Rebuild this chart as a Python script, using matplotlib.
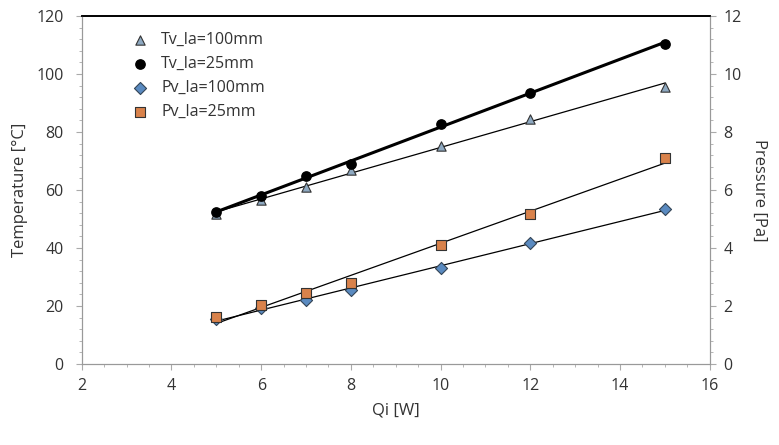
import matplotlib
matplotlib.use('Agg')
import matplotlib.pyplot as plt
import numpy as np
from matplotlib.ticker import MultipleLocator

plt.rcParams['font.family'] = ['Open Sans', 'DejaVu Sans']

qi = [5, 6, 7, 8, 10, 12, 15]
tv_100 = [51.6, 56.7, 60.9, 67.0, 75.3, 84.6, 95.6]
tv_25 = [52.3, 58.0, 65.0, 68.8, 82.9, 93.5, 110.5]
pv_100 = [1.55, 1.93, 2.2, 2.54, 3.3, 4.16, 5.36]
pv_25 = [1.62, 2.03, 2.45, 2.8, 4.09, 5.16, 7.12]

fig = plt.figure(figsize=(7.79, 4.45), dpi=100)
ax = fig.add_axes([0.105, 0.182, 0.806, 0.782])
ax2 = ax.twinx()

def trend(a, x, y, lw):
    k, b = np.polyfit(x, y, 1)
    xs = np.array([min(x), max(x)])
    a.plot(xs, k * xs + b, color='black', lw=lw, zorder=2)

trend(ax, qi, tv_100, 0.9)
trend(ax, qi, tv_25, 2.2)
trend(ax2, qi, pv_100, 0.9)
trend(ax2, qi, pv_25, 0.9)

h1 = ax.scatter(qi, tv_100, marker='^', s=45, c='#8EA9C1', edgecolors='#333333', linewidths=0.8, zorder=3, label='Tv_la=100mm')
h2 = ax.scatter(qi, tv_25, marker='o', s=45, c='black', edgecolors='black', zorder=3, label='Tv_la=25mm')
h3 = ax2.scatter(qi, pv_100, marker='D', s=38, c='#5A8AC0', edgecolors='#334455', linewidths=0.8, zorder=3, label='Pv_la=100mm')
h4 = ax2.scatter(qi, pv_25, marker='s', s=50, c='#D9824B', edgecolors='#333333', linewidths=0.8, zorder=3, label='Pv_la=25mm')

ax.set_xlim(2, 16)
ax.set_ylim(0, 120)
ax2.set_ylim(0, 12)
ax.xaxis.set_major_locator(MultipleLocator(2))
ax.xaxis.set_minor_locator(MultipleLocator(0.5))
ax.yaxis.set_major_locator(MultipleLocator(20))
ax.yaxis.set_minor_locator(MultipleLocator(4))
ax2.yaxis.set_major_locator(MultipleLocator(2))
ax2.yaxis.set_minor_locator(MultipleLocator(0.4))

for a in (ax, ax2):
    for s in ('left', 'right', 'bottom'):
        a.spines[s].set_color('#999999')
    a.spines['top'].set_color('black')
    a.spines['top'].set_linewidth(1.2)
    a.tick_params(which='both', colors='#aaaaaa', labelcolor='#333333', labelsize=11.5, direction='out')
    a.tick_params(which='major', length=4)
    a.tick_params(which='minor', length=2.5)
ax.tick_params(axis='y', which='both', pad=9)
ax.tick_params(axis='x', which='both', pad=6)
ax2.tick_params(axis='y', which='both', pad=6)

ax.set_xlabel('Qi [W]', fontsize=12, color='#333333', labelpad=6)
ax.set_ylabel('Temperature [°C]', fontsize=12, color='#333333', labelpad=6)
ax2.set_ylabel('Pressure [Pa]', fontsize=12, color='#333333', rotation=270, labelpad=18)

ax2.legend(handles=[h1, h2, h3, h4], loc='upper left', bbox_to_anchor=(0.045, 0.995),
           frameon=False, fontsize=11.5, handletextpad=0.3, labelspacing=0.5,
           labelcolor='#333333')

fig.savefig('out.png', dpi=100)
